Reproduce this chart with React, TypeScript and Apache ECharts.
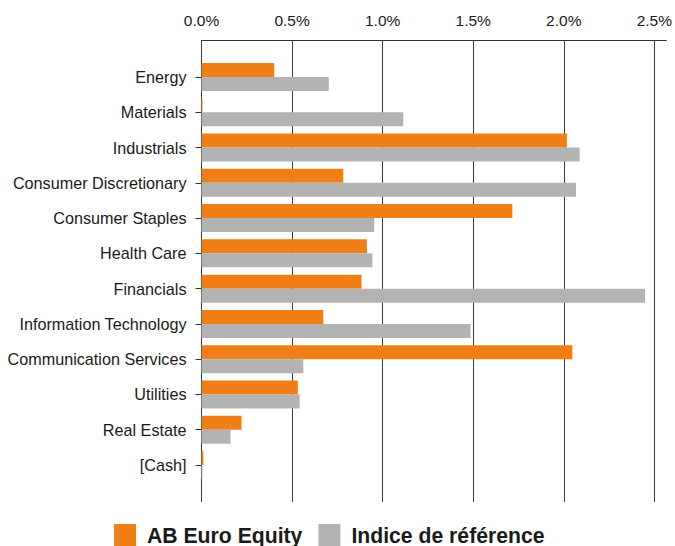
import React, { useEffect, useRef } from "react";
import * as echarts from "echarts";

const categories = [
  "Energy",
  "Materials",
  "Industrials",
  "Consumer Discretionary",
  "Consumer Staples",
  "Health Care",
  "Financials",
  "Information Technology",
  "Communication Services",
  "Utilities",
  "Real Estate",
  "[Cash]",
];
const fundValues = [0.4, 0.005, 2.01, 0.78, 1.71, 0.91, 0.88, 0.67, 2.04, 0.53, 0.22, 0.01];
const benchmarkValues = [0.7, 1.11, 2.08, 2.06, 0.95, 0.94, 2.44, 1.48, 0.56, 0.54, 0.16, 0.005];
const seriesNames = ["AB Euro Equity", "Indice de référence"];
const xTicks = [0, 0.5, 1.0, 1.5, 2.0, 2.5];

const FONT = "'Liberation Sans', Arial, Helvetica, sans-serif";
const AXIS_MAX = 2.566;

export default function App() {
  const ref = useRef<HTMLDivElement>(null);
  useEffect(() => {
    if (!ref.current) return;
    const chart = echarts.init(ref.current, null, { renderer: "svg" });
    chart.setOption({
      animation: false,
      textStyle: { fontFamily: FONT },
      grid: [
        { left: 201.5, right: 7, top: 40, bottom: 44 },
        { left: 201.5, right: 7, top: 59.4, bottom: 63.4 },
      ],
      legend: {
        data: seriesNames,
        selectedMode: false,
        top: 524,
        left: 114,
        padding: 0,
        itemWidth: 22,
        itemHeight: 22,
        itemGap: 16,
        icon: "rect",
        textStyle: { fontSize: 21.2, fontWeight: "bold", color: "#1a1a1a", fontFamily: FONT, padding: [0, 0, 0, 6] },
      },
      xAxis: [
        {
          type: "value",
          gridIndex: 0,
          position: "top",
          min: 0,
          max: AXIS_MAX,
          interval: 0.5,
          axisLine: { show: true, lineStyle: { color: "#333", width: 1 } },
          axisTick: { show: false },
          axisLabel: {
            show: true,
            margin: 12,
            fontSize: 15.5,
            color: "#1a1a1a",
            showMaxLabel: false,
            formatter: (v: number) =>
              xTicks.some((t) => Math.abs(t - v) < 1e-6) ? v.toFixed(1) + "%" : "",
          },
          splitLine: { show: true, showMaxLine: false, lineStyle: { color: "#3a3a3a", width: 1 } },
        },
        {
          type: "value",
          gridIndex: 1,
          min: 0,
          max: AXIS_MAX,
          show: false,
          splitLine: { show: false },
        },
      ],
      yAxis: [
        {
          type: "category",
          gridIndex: 0,
          data: [""],
          show: false,
        },
        {
          type: "category",
          gridIndex: 1,
          inverse: true,
          data: categories,
          axisLine: { show: false },
          axisTick: { show: true, alignWithLabel: true, length: 6, lineStyle: { color: "#333" } },
          axisLabel: { fontSize: 16.2, color: "#1a1a1a", margin: 15 },
          splitLine: { show: false },
        },
      ],
      series: [
        {
          name: seriesNames[0],
          type: "bar",
          xAxisIndex: 1,
          yAxisIndex: 1,
          data: fundValues,
          barGap: "0%",
          barCategoryGap: "20.6%",
          itemStyle: { color: "#EF7F16" },
        },
        {
          name: seriesNames[1],
          type: "bar",
          xAxisIndex: 1,
          yAxisIndex: 1,
          data: benchmarkValues,
          barGap: "0%",
          barCategoryGap: "20.6%",
          itemStyle: { color: "#B3B3B3" },
        },
      ],
    });
    return () => chart.dispose();
  }, []);
  return (
    <div
      ref={ref}
      style={{ position: "fixed", left: 0, top: 0, width: 675, height: 546, background: "#fff" }}
    />
  );
}
